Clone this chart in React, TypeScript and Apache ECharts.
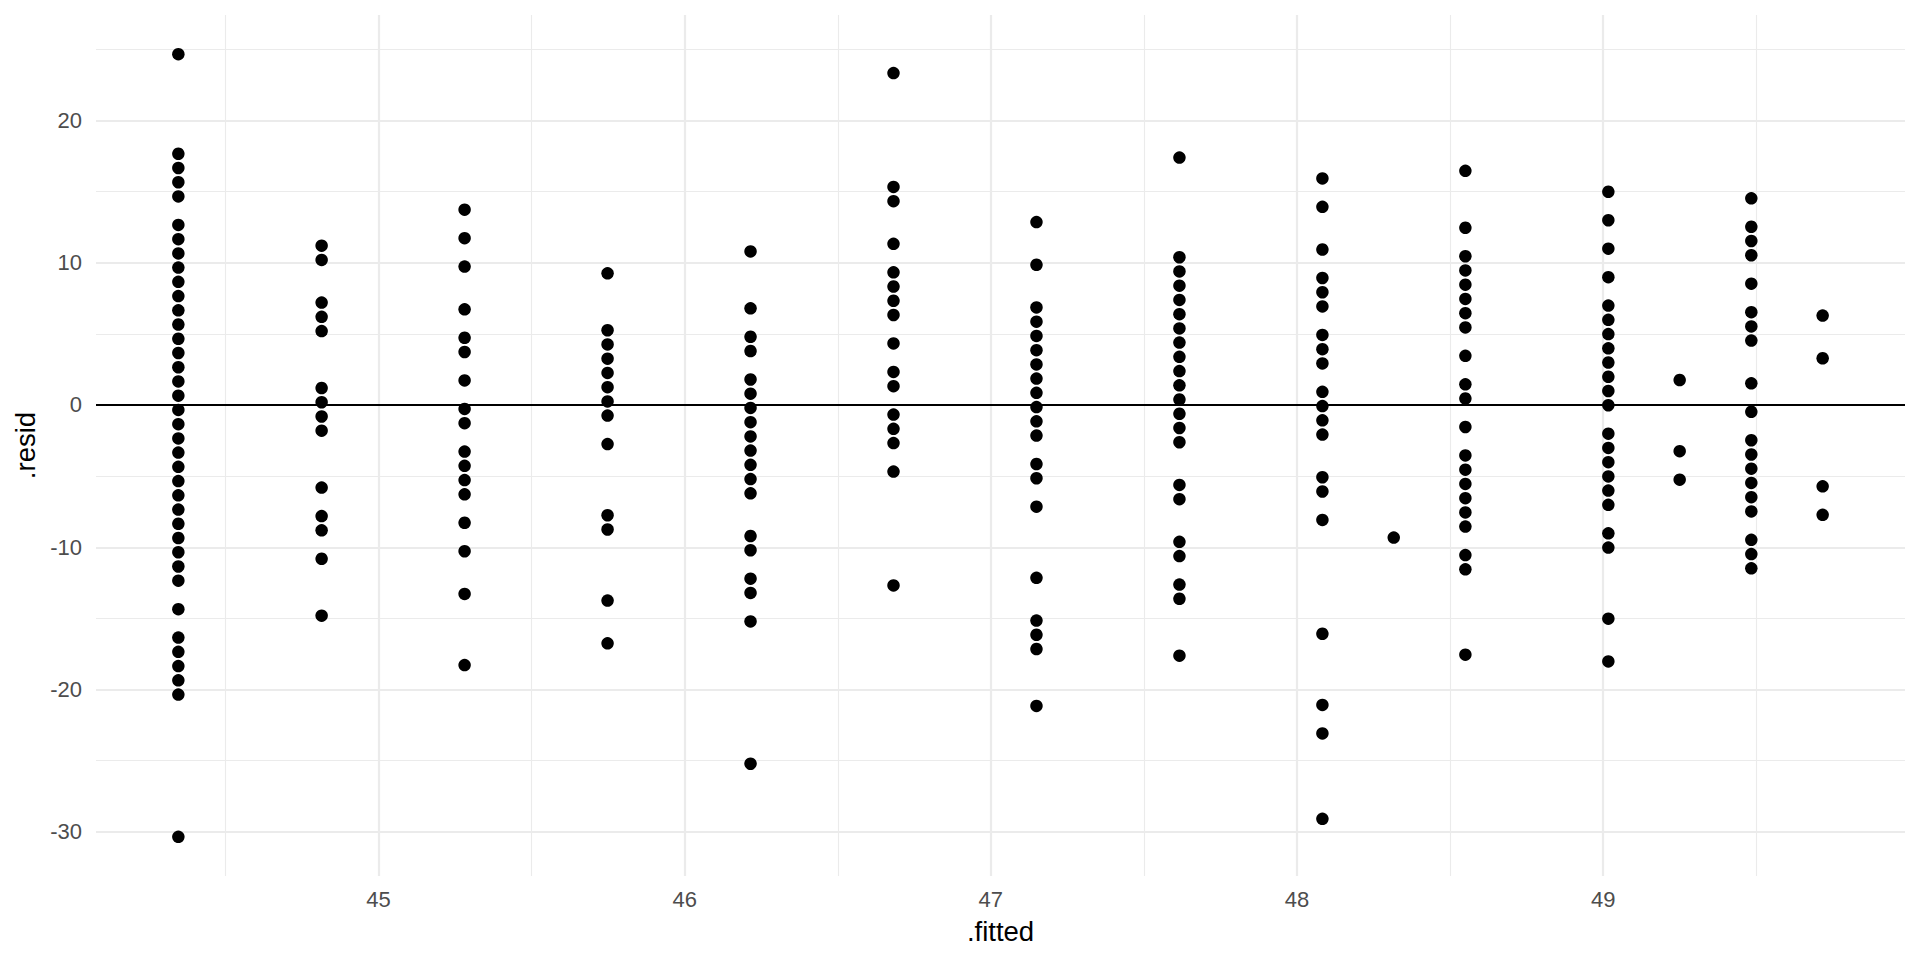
import React, { useEffect, useRef } from "react";
import * as echarts from "echarts";

// Fitted values (x positions of the point columns)
const FITTED = [44.346, 44.814, 45.281, 45.748, 46.215, 46.682, 47.149, 47.616, 48.083, 48.316, 48.55, 49.017, 49.25, 49.484, 49.717];

// Residuals for each fitted value
const RESID_1 = [24.65, 17.65, 16.65, 15.65, 14.65, 12.65, 11.65, 10.65, 9.65, 8.65, 7.65, 6.65, 5.65, 4.65, 3.65, 2.65, 1.65, 0.65, -0.35, -1.35, -2.35, -3.35, -4.35, -5.35, -6.35, -7.35, -8.35, -9.35, -10.35, -11.35, -12.35, -14.35, -16.35, -17.35, -18.35, -19.35, -20.35, -30.35];
const RESID_2 = [11.19, 10.19, 7.19, 6.19, 5.19, 1.19, 0.19, -0.81, -1.81, -5.81, -7.81, -8.81, -10.81, -14.81];
const RESID_3 = [13.72, 11.72, 9.72, 6.72, 4.72, 3.72, 1.72, -0.28, -1.28, -3.28, -4.28, -5.28, -6.28, -8.28, -10.28, -13.28, -18.28];
const RESID_4 = [9.25, 5.25, 4.25, 3.25, 2.25, 1.25, 0.25, -0.75, -2.75, -7.75, -8.75, -13.75, -16.75];
const RESID_5 = [10.79, 6.79, 4.79, 3.79, 1.79, 0.79, -0.21, -1.21, -2.21, -3.21, -4.21, -5.21, -6.21, -9.21, -10.21, -12.21, -13.21, -15.21, -25.21];
const RESID_6 = [23.32, 15.32, 14.32, 11.32, 9.32, 8.32, 7.32, 6.32, 4.32, 2.32, 1.32, -0.68, -1.68, -2.68, -4.68, -12.68];
const RESID_7 = [12.85, 9.85, 6.85, 5.85, 4.85, 3.85, 2.85, 1.85, 0.85, -0.15, -1.15, -2.15, -4.15, -5.15, -7.15, -12.15, -15.15, -16.15, -17.15, -21.15];
const RESID_8 = [17.38, 10.38, 9.38, 8.38, 7.38, 6.38, 5.38, 4.38, 3.38, 2.38, 1.38, 0.38, -0.62, -1.62, -2.62, -5.62, -6.62, -9.62, -10.62, -12.62, -13.62, -17.62];
const RESID_9 = [15.92, 13.92, 10.92, 8.92, 7.92, 6.92, 4.92, 3.92, 2.92, 0.92, -0.08, -1.08, -2.08, -5.08, -6.08, -8.08, -16.08, -21.08, -23.08, -29.08];
const RESID_10 = [-9.32];
const RESID_11 = [16.45, 12.45, 10.45, 9.45, 8.45, 7.45, 6.45, 5.45, 3.45, 1.45, 0.45, -1.55, -3.55, -4.55, -5.55, -6.55, -7.55, -8.55, -10.55, -11.55, -17.55];
const RESID_12 = [14.98, 12.98, 10.98, 8.98, 6.98, 5.98, 4.98, 3.98, 2.98, 1.98, 0.98, -0.02, -2.02, -3.02, -4.02, -5.02, -6.02, -7.02, -9.02, -10.02, -15.02, -18.02];
const RESID_13 = [1.75, -3.25, -5.25];
const RESID_14 = [14.52, 12.52, 11.52, 10.52, 8.52, 6.52, 5.52, 4.52, 1.52, -0.48, -2.48, -3.48, -4.48, -5.48, -6.48, -7.48, -9.48, -10.48, -11.48];
const RESID_15 = [6.28, 3.28, -5.72, -7.72];

const RESIDUALS = [RESID_1, RESID_2, RESID_3, RESID_4, RESID_5, RESID_6, RESID_7, RESID_8, RESID_9, RESID_10, RESID_11, RESID_12, RESID_13, RESID_14, RESID_15];

// Axis ticks / gridlines
const X_TICKS = [45, 46, 47, 48, 49];
const X_MINOR = [44.5, 45.5, 46.5, 47.5, 48.5, 49.5];
const Y_TICKS = [-30, -20, -10, 0, 10, 20];
const Y_MINOR = [-25, -15, -5, 5, 15, 25];
const X_RANGE = [44.077, 49.986];
const Y_RANGE = [-33.1, 27.4];

const FONT = "'Liberation Sans', Arial, Helvetica, sans-serif";

export default function App() {
  const ref = useRef<HTMLDivElement>(null);

  useEffect(() => {
    if (!ref.current) return;
    const chart = echarts.init(ref.current, undefined, { renderer: "svg" });

    const points: number[][] = [];
    FITTED.forEach((x, i) => {
      RESIDUALS[i].forEach((r) => points.push([x, r]));
    });

    const grey = "#EBEBEB";
    const gridLines: any[] = [];
    X_MINOR.forEach((v) => gridLines.push({ xAxis: v, lineStyle: { color: grey, width: 1.1, type: "solid" } }));
    Y_MINOR.forEach((v) => gridLines.push({ yAxis: v, lineStyle: { color: grey, width: 1.1, type: "solid" } }));
    X_TICKS.forEach((v) => gridLines.push({ xAxis: v, lineStyle: { color: grey, width: 2.2, type: "solid" } }));
    Y_TICKS.forEach((v) => gridLines.push({ yAxis: v, lineStyle: { color: grey, width: 2.2, type: "solid" } }));

    chart.setOption({
      animation: false,
      backgroundColor: "#FFFFFF",
      grid: { left: 96, right: 15, top: 15, bottom: 84, containLabel: false },
      xAxis: {
        type: "value",
        min: X_RANGE[0],
        max: X_RANGE[1],
        name: ".fitted",
        nameLocation: "middle",
        nameGap: 41,
        nameTextStyle: { color: "#000000", fontSize: 27.5, fontFamily: FONT },
        axisLine: { show: false },
        axisTick: { show: false },
        splitLine: { show: false },
        axisLabel: {
          customValues: X_TICKS,
          color: "#4D4D4D",
          fontSize: 22,
          fontFamily: FONT,
          margin: 12,
        },
      },
      yAxis: {
        type: "value",
        min: Y_RANGE[0],
        max: Y_RANGE[1],
        name: ".resid",
        nameLocation: "middle",
        nameGap: 57,
        nameRotate: 90,
        nameTextStyle: { color: "#000000", fontSize: 27.5, fontFamily: FONT },
        axisLine: { show: false },
        axisTick: { show: false },
        splitLine: { show: false },
        axisLabel: {
          customValues: Y_TICKS,
          color: "#4D4D4D",
          fontSize: 22,
          fontFamily: FONT,
          margin: 14,
        },
      },
      series: [
        {
          type: "line",
          data: [],
          silent: true,
          z: 1,
          markLine: {
            silent: true,
            symbol: ["none", "none"],
            label: { show: false },
            animation: false,
            data: gridLines,
          },
        },
        {
          type: "line",
          data: [],
          silent: true,
          z: 2,
          markLine: {
            silent: true,
            symbol: ["none", "none"],
            label: { show: false },
            animation: false,
            data: [{ yAxis: 0, lineStyle: { color: "#000000", width: 2.2, type: "solid" } }],
          },
        },
        {
          type: "scatter",
          data: points,
          symbol: "circle",
          symbolSize: 12.5,
          z: 5,
          itemStyle: { color: "#000000", opacity: 1 },
        },
      ],
    });

    return () => chart.dispose();
  }, []);

  return (
    <div
      ref={ref}
      style={{ position: "fixed", left: 0, top: 0, width: 1920, height: 960, background: "#fff" }}
    />
  );
}
